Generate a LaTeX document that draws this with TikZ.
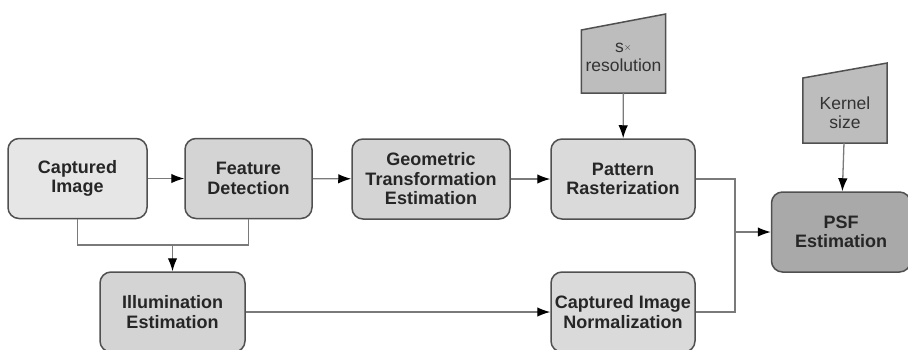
\documentclass[tikz,border=0pt]{standalone}
\usepackage{fontspec}
\setmainfont{Liberation Sans}
\usepackage{tikz}
\usetikzlibrary{arrows.meta}
\usetikzlibrary{backgrounds}
\usetikzlibrary{positioning}

\definecolor{edgegray}{HTML}{505050}
\definecolor{linegray}{HTML}{7A7A7A}
\definecolor{capfill}{HTML}{E6E6E6}
\definecolor{stepfill}{HTML}{D4D4D4}
\definecolor{patfill}{HTML}{DADADA}
\definecolor{psffill}{HTML}{A9A9A9}
\definecolor{inputfill}{HTML}{BDBDBD}

\tikzstyle{procbox}=[draw=edgegray, line width=1.5pt, rounded corners=11pt, minimum height=80pt, align=center, inner sep=2pt, font=\fontsize{18}{19.5}\selectfont\bfseries, text=black!85]
\tikzstyle{inputtxt}=[minimum width=84pt, align=center, inner sep=0pt, font=\fontsize{17.5}{19}\selectfont, text=black!80]
\tikzstyle{inputshape}=[draw=edgegray, line width=1.5pt, fill=inputfill, line join=miter]
\tikzstyle{wire}=[draw=linegray, line width=1.3pt]
\tikzstyle{arr}=[wire, -{Latex[length=13pt,width=9.5pt,color=black]}]

\begin{document}
\begin{tikzpicture}[x=1pt, y=-1pt]

    \clip (0,0) rectangle (908,349);
    \begin{scope}[on background layer]
        \fill[white] (0,0) rectangle (908,349);
    \end{scope}

    % processing steps
    \node [procbox, fill=capfill, minimum width=139pt] (cap) at (77.5,178.5) {Captured\\Image};

    \node [procbox, fill=stepfill, minimum width=127pt] (feat) at (248.5,178.5) {Feature\\Detection};

    \node [procbox, fill=stepfill, minimum width=158pt] (geo) at (431,179) {Geometric\\Transformation\\Estimation};

    \node [procbox, fill=patfill, minimum width=144pt] (pat) at (623,179) {Pattern\\Rasterization};

    \node [procbox, fill=stepfill, minimum width=145pt] (ill) at (172.5,312) {Illumination\\Estimation};

    \node [procbox, fill=patfill, minimum width=144pt] (norm) at (623,312) {Captured Image\\Normalization};

    \node [procbox, fill=psffill, minimum width=139pt] (psf) at (841,232) {PSF\\Estimation};

    % manual inputs
    \node [inputtxt, minimum height=72pt] (res) at (623.5,57) {s\raisebox{1.5pt}{\fontsize{10}{10}\selectfont$\times$}\\resolution};
    \begin{scope}[on background layer]
        \filldraw [inputshape] (res.south west) -- (res.west |- 0,30) -- (res.east |- 0,14) -- (res.south east) -- cycle;
    \end{scope}

    \node [inputtxt, minimum height=61pt] (ker) at (845,112.5) {Kernel\\size};
    \begin{scope}[on background layer]
        \filldraw [inputshape] (ker.south west) -- (ker.west |- 0,78) -- (ker.east |- 0,63) -- (ker.south east) -- cycle;
    \end{scope}

    % connectors
    \draw [arr] (cap) -- (feat);
    \draw [arr] (feat) -- (geo);
    \draw [arr] (geo) -- (pat);

    \coordinate (join) at (ill.north |- 0,245);
    \draw [wire] (cap.south) |- (join) -| (feat.south);
    \draw [arr] (join) -- (ill);

    \draw [arr] (ill) -- (norm);

    \coordinate (mrg) at (735,232);
    \draw [wire] (pat.east) -| (mrg) |- (norm.east);
    \draw [arr] (mrg) -- (psf);

    \draw [arr] (res) -- (pat);
    \draw [arr] (ker) -- (psf);

\end{tikzpicture}
\end{document}
